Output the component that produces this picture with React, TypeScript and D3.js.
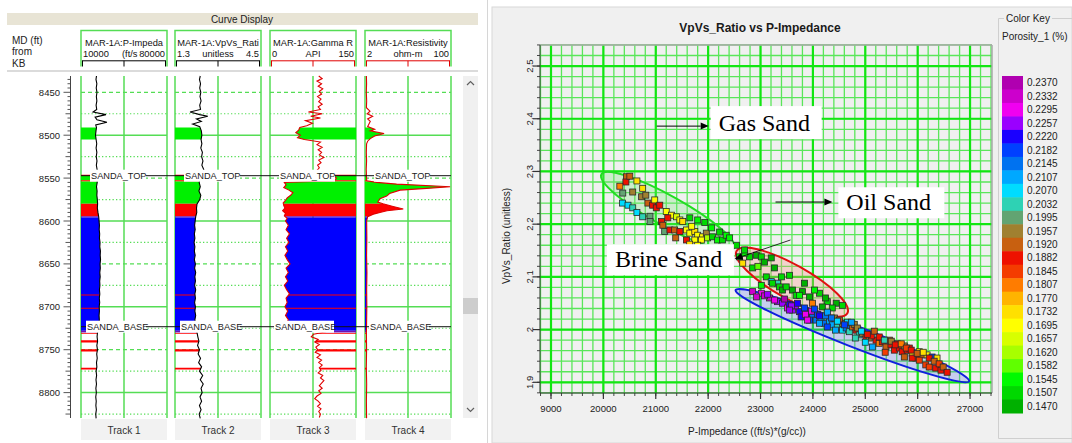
import React from "react";
import * as d3 from "d3";

type Pt = [number, number, number];
type LogSample = [number, number];

// ---------- Crossplot samples: [P-Impedance, VpVs ratio, porosity] ----------
const gasSandPoints: Pt[] = [
  [20440, 2.29, 0.192], [20430, 2.28, 0.1882], [20640, 2.282, 0.1732], [20370, 2.259, 0.1995],
  [20560, 2.261, 0.1957], [20750, 2.268, 0.1732], [20365, 2.24, 0.207], [20470, 2.236, 0.207],
  [20560, 2.231, 0.205], [20640, 2.222, 0.207], [20750, 2.214, 0.2032], [20890, 2.215, 0.1995],
  [20890, 2.205, 0.1995], [20730, 2.252, 0.1957], [20850, 2.24, 0.192], [20940, 2.236, 0.19],
  [20980, 2.246, 0.171], [21010, 2.231, 0.189], [21200, 2.224, 0.17], [21300, 2.217, 0.171],
  [21395, 2.214, 0.166], [21460, 2.208, 0.17], [21515, 2.205, 0.172], [21650, 2.212, 0.1507],
  [21800, 2.208, 0.1545], [21935, 2.203, 0.1507], [21110, 2.205, 0.189], [21135, 2.198, 0.193],
  [21170, 2.186, 0.1995], [21270, 2.189, 0.19], [21360, 2.189, 0.192], [21460, 2.186, 0.188],
  [21585, 2.189, 0.171], [21650, 2.183, 0.17], [21745, 2.186, 0.172], [21800, 2.179, 0.169],
  [21895, 2.176, 0.17], [21965, 2.183, 0.1957], [21585, 2.17, 0.187], [21745, 2.17, 0.17],
  [21870, 2.17, 0.168], [21990, 2.174, 0.163], [22085, 2.176, 0.1507], [22180, 2.17, 0.1545],
  [22275, 2.17, 0.1507], [22345, 2.179, 0.1545], [21800, 2.16, 0.17],
  [20314, 2.272, 0.1807], [20505, 2.291, 0.192], [20810, 2.255, 0.1957], [21076, 2.236, 0.1882],
  [21229, 2.212, 0.19], [21686, 2.196, 0.1695], [22067, 2.193, 0.1545], [22219, 2.185, 0.1507],
  [22410, 2.174, 0.1545], [21381, 2.174, 0.192], [21648, 2.162, 0.1732],
];

const oilSandPoints: Pt[] = [
  [22540, 2.16, 0.1507], [22600, 2.138, 0.1545], [22660, 2.126, 0.172], [22790, 2.138, 0.1507],
  [22920, 2.141, 0.147], [23015, 2.138, 0.1507], [23205, 2.136, 0.147], [22850, 2.117, 0.1507],
  [23265, 2.117, 0.147], [23110, 2.1, 0.1507], [23205, 2.091, 0.207], [23325, 2.088, 0.2032],
  [23360, 2.081, 0.1507], [23420, 2.075, 0.147], [23490, 2.081, 0.1507], [23610, 2.075, 0.147],
  [23680, 2.065, 0.1507], [23800, 2.072, 0.147], [24125, 2.069, 0.1507], [23015, 2.084, 0.1545],
  [23230, 2.088, 0.1507], [23935, 2.062, 0.147], [24275, 2.053, 0.1507], [24445, 2.05, 0.147],
  [24565, 2.046, 0.1507], [23990, 2.05, 0.1807], [24180, 2.043, 0.147], [24370, 2.041, 0.1507],
  [23745, 2.065, 0.1545], [22700, 2.145, 0.1545], [22950, 2.12, 0.1582], [23400, 2.1, 0.1507],
  [22696, 2.151, 0.1507], [23077, 2.128, 0.147], [23553, 2.103, 0.1507], [23839, 2.088, 0.147],
  [24029, 2.075, 0.1545], [24239, 2.06, 0.147],
];

const brineSandPoints: Pt[] = [
  [22850, 2.072, 0.232], [23015, 2.069, 0.2295], [23170, 2.06, 0.232], [23325, 2.053, 0.226],
  [23420, 2.05, 0.226], [23515, 2.041, 0.231], [23610, 2.037, 0.226], [23745, 2.034, 0.221],
  [23775, 2.024, 0.223], [23895, 2.031, 0.218], [23990, 2.024, 0.216], [23935, 2.018, 0.219],
  [24060, 2.018, 0.215], [24155, 2.022, 0.212], [24220, 2.012, 0.216], [24315, 2.015, 0.209],
  [24370, 2.009, 0.21], [24465, 2.005, 0.2035], [24565, 2.012, 0.194], [24565, 1.999, 0.208],
  [24635, 2.003, 0.214], [24695, 1.996, 0.203], [24755, 2.005, 0.193], [24825, 1.999, 0.19],
  [24885, 1.99, 0.203], [24945, 1.993, 0.194], [25015, 1.986, 0.188], [25075, 1.984, 0.196],
  [25135, 1.967, 0.209], [25205, 1.98, 0.187], [25265, 1.974, 0.182], [25325, 1.977, 0.188],
  [25395, 1.967, 0.193], [25490, 1.971, 0.188], [25555, 1.961, 0.187], [25650, 1.965, 0.188],
  [25705, 1.958, 0.189], [25800, 1.961, 0.188], [25895, 1.955, 0.172], [25965, 1.946, 0.188],
  [26030, 1.958, 0.171], [26085, 1.952, 0.192], [26180, 1.952, 0.17], [26275, 1.948, 0.2182],
  [26370, 1.946, 0.172], [26030, 1.942, 0.183], [26155, 1.933, 0.184], [26220, 1.929, 0.185],
  [26345, 1.927, 0.189], [26445, 1.923, 0.189], [25895, 1.946, 0.188], [25745, 1.948, 0.192],
  [23075, 2.064, 0.232], [23265, 2.056, 0.2295], [23555, 2.048, 0.221], [23665, 2.045, 0.225],
  [23840, 2.041, 0.219], [23970, 2.035, 0.228], [24085, 2.029, 0.217], [24240, 2.026, 0.213],
  [24410, 2.022, 0.195], [24505, 2.018, 0.191], [24660, 2.014, 0.207], [24790, 2.01, 0.194],
  [24125, 2.012, 0.209], [24275, 2.005, 0.217], [24430, 1.999, 0.21], [24810, 1.984, 0.203],
  [25000, 1.976, 0.207], [25115, 1.988, 0.188], [25460, 1.98, 0.193], [25610, 1.973, 0.187],
  [25745, 1.969, 0.196], [25840, 1.965, 0.188], [25380, 1.957, 0.183],
  [22924, 2.062, 0.2332], [23134, 2.067, 0.2257], [23458, 2.058, 0.237], [23591, 2.045, 0.2257],
  [23705, 2.05, 0.222], [23858, 2.029, 0.2295], [24029, 2.039, 0.2182], [24124, 2.026, 0.222],
  [24277, 2.033, 0.2107], [24353, 2.022, 0.2145], [24467, 2.016, 0.207], [24601, 2.009, 0.2182],
  [24734, 2.014, 0.2107], [24848, 2.003, 0.1957], [24925, 1.997, 0.207], [25039, 1.991, 0.1882],
  [25172, 1.997, 0.192], [25267, 1.986, 0.19], [25363, 1.98, 0.2032], [25496, 1.978, 0.1957],
  [25572, 1.971, 0.1882], [25686, 1.973, 0.1807], [25782, 1.965, 0.1845], [25877, 1.961, 0.1882],
  [25991, 1.955, 0.192], [26106, 1.957, 0.1732], [26220, 1.946, 0.1882], [26315, 1.94, 0.192],
  [26410, 1.935, 0.1845], [26487, 1.929, 0.192], [26563, 1.919, 0.1882], [23896, 2.018, 0.2295],
  [23553, 2.037, 0.2257],
];

// ---------- Colour key ----------
const porosityKeyValues = [
  0.237, 0.2332, 0.2295, 0.2257, 0.222, 0.2182, 0.2145, 0.2107, 0.207, 0.2032, 0.1995, 0.1957,
  0.192, 0.1882, 0.1845, 0.1807, 0.177, 0.1732, 0.1695, 0.1657, 0.162, 0.1582, 0.1545, 0.1507, 0.147,
];
const porosityKeyColors = [
  "#b000b0", "#cc00cc", "#f000f0", "#9a00ff", "#1a00ff", "#0040ff", "#0072f0", "#00a8ff",
  "#00dcff", "#2ed2b4", "#62a472", "#a08030", "#c86010", "#ee1100", "#f43c00", "#ff7c00",
  "#ffb400", "#ffe000", "#ffff00", "#d8ff00", "#a8ff00", "#60ff00", "#00fa00", "#00d800", "#00b000",
];

// ---------- Crossplot axes ----------
const impedanceTicks = [19000, 20000, 21000, 22000, 23000, 24000, 25000, 26000, 27000];
const impedanceTickLabels = ["9000", "20000", "21000", "22000", "23000", "24000", "25000", "26000", "27000"];
const vpvsTicks = [1.9, 2.0, 2.1, 2.2, 2.3, 2.4, 2.5];
const vpvsTickLabels = ["1.9", "2", "2.1", "2.2", "2.3", "2.4", "2.5"];

// Sand-class envelopes: ends of the long axis [imp1, vpvs1, imp2, vpvs2] and width/length ratio
const envelopeEnds = [
  [19962, 2.2947, 22496, 2.155],
  [22543, 2.149, 24658, 2.031],
  [22524, 2.075, 26982, 1.902],
];
const envelopeRatios = [0.2, 0.27, 0.085];
const envelopeFills = ["rgba(110,225,110,0.28)", "rgba(250,150,130,0.32)", "rgba(90,110,235,0.27)"];
const envelopeStrokes = ["#22dd22", "#e01010", "#1020dd"];

// Callouts: label, box top-left (imp, vpvs), arrow [fromImp, fromVpvs, toImp, toVpvs]
const calloutTexts = ["Gas Sand", "Oil Sand", "Brine Sand"];
const calloutAnchors = [[22048, 2.424], [24486, 2.27], [20067, 2.162]];
const calloutArrows = [
  [21019, 2.386, 22010, 2.386],
  [23286, 2.242, 24372, 2.242],
  [23572, 2.17, 22505, 2.134],
];

// ---------- Well log ----------
const depthLabels = [8450, 8500, 8550, 8600, 8650, 8700, 8750, 8800];
const trackTitles = ["MAR-1A:P-Impeda", "MAR-1A:VpVs_Rati", "MAR-1A:Gamma R", "MAR-1A:Resistivity"];
const trackMinLabels = ["10000", "1.3", "0", "2"];
const trackUnitLabels = ["(ft/s", "unitless", "API", "ohm-m"];
const trackMaxLabels = ["80000", "4.5", "150", "100"];
const trackRanges = [[10000, 80000], [1.3, 4.5], [0, 150], [2, 100]];
const trackNames = ["Track 1", "Track 2", "Track 3", "Track 4"];

const pImpedanceLog: LogSample[] = [
  [8431, 22600], [8435, 22200], [8440, 22900], [8445, 22400], [8450, 23000], [8455, 22500],
  [8460, 22900], [8465, 22300], [8470, 22800], [8473, 19800], [8476, 30300], [8479, 21500],
  [8482, 23000], [8485, 31100], [8488, 22000], [8491, 22600], [8495, 22200], [8500, 21800],
  [8505, 22300], [8510, 22800], [8515, 22300], [8520, 22900], [8525, 22400], [8530, 23000],
  [8535, 22500], [8540, 23100], [8545, 22700], [8550, 23000], [8555, 23200], [8560, 22600],
  [8565, 23100], [8570, 22900], [8575, 23300], [8580, 23500], [8585, 23300], [8590, 23800],
  [8595, 24400], [8600, 24700], [8605, 25000], [8610, 24800], [8615, 25200], [8620, 25000],
  [8625, 25500], [8630, 25300], [8635, 25800], [8640, 25600], [8645, 25900], [8650, 25500],
  [8655, 25700], [8660, 25300], [8665, 25600], [8670, 25200], [8675, 25400], [8680, 25000],
  [8685, 25300], [8690, 24900], [8695, 25200], [8700, 24800], [8705, 25000], [8710, 24700],
  [8715, 24900], [8720, 24600], [8725, 24200], [8730, 23400], [8735, 23100], [8740, 23500],
  [8745, 22900], [8750, 23400], [8755, 22800], [8760, 23200], [8765, 22600], [8770, 22900],
  [8775, 22300], [8780, 22700], [8785, 22200], [8790, 22600], [8795, 22100], [8800, 22500],
  [8805, 22000], [8810, 22400], [8815, 22100], [8820, 22500], [8825, 22000], [8830, 22300],
];

const vpvsLog: LogSample[] = [
  [8431, 2.24], [8435, 2.21], [8440, 2.25], [8445, 2.22], [8450, 2.26], [8455, 2.23], [8460, 2.27],
  [8465, 2.22], [8470, 2.25], [8473, 1.86], [8476, 2.22], [8478, 2.52], [8481, 2.1], [8484, 2.28],
  [8487, 1.96], [8490, 2.22], [8495, 2.28], [8500, 2.3], [8505, 2.27], [8510, 2.3], [8515, 2.26],
  [8520, 2.32], [8525, 2.29], [8530, 2.34], [8535, 2.3], [8540, 2.37], [8545, 2.31], [8550, 2.24],
  [8555, 2.2], [8560, 2.24], [8565, 2.19], [8570, 2.26], [8575, 2.22], [8580, 2.12], [8585, 2.1],
  [8590, 2.11], [8595, 2.07], [8600, 2.05], [8605, 2.03], [8610, 2.05], [8615, 2.02], [8620, 2.04],
  [8625, 2.01], [8630, 2.04], [8635, 2.02], [8640, 2.05], [8645, 2.02], [8650, 2.06], [8655, 2.03],
  [8660, 2.07], [8665, 2.04], [8670, 2.06], [8675, 2.03], [8680, 2.07], [8685, 2.04], [8690, 2.06],
  [8695, 2.03], [8700, 2.06], [8705, 2.04], [8710, 2.07], [8715, 2.04], [8720, 2.06], [8725, 2.05],
  [8730, 2.12], [8735, 2.15], [8740, 2.19], [8745, 2.14], [8750, 2.21], [8755, 2.16], [8760, 2.25],
  [8765, 2.18], [8770, 2.29], [8775, 2.21], [8780, 2.33], [8785, 2.24], [8790, 2.35], [8795, 2.27],
  [8800, 2.31], [8805, 2.23], [8810, 2.29], [8815, 2.21], [8820, 2.27], [8825, 2.2], [8830, 2.24],
];

const gammaRayLog: LogSample[] = [
  [8431, 85], [8434, 91], [8437, 82], [8440, 90], [8443, 84], [8446, 92], [8449, 86], [8452, 90],
  [8455, 83], [8458, 89], [8461, 85], [8464, 91], [8467, 84], [8470, 88], [8473, 67], [8475, 91],
  [8478, 71], [8480, 88], [8483, 62], [8486, 74], [8489, 64], [8491, 52], [8494, 50], [8497, 45],
  [8500, 53], [8503, 48], [8505, 60], [8508, 88], [8511, 82], [8514, 91], [8517, 84], [8520, 90],
  [8523, 86], [8526, 94], [8529, 85], [8532, 89], [8535, 83], [8538, 86], [8541, 82], [8544, 88],
  [8547, 110], [8550, 116], [8553, 112], [8555, 25], [8558, 28], [8561, 24], [8564, 33], [8567, 40],
  [8570, 36], [8573, 30], [8576, 27], [8579, 23], [8582, 24], [8585, 26], [8588, 22], [8591, 27],
  [8594, 25], [8597, 30], [8600, 27], [8605, 32], [8610, 28], [8615, 34], [8620, 29], [8625, 33],
  [8630, 27], [8635, 31], [8640, 26], [8645, 30], [8650, 35], [8655, 28], [8660, 32], [8665, 27],
  [8670, 31], [8675, 25], [8680, 29], [8685, 34], [8690, 28], [8695, 30], [8700, 26], [8705, 31],
  [8710, 27], [8715, 32], [8720, 28], [8725, 30], [8729, 98], [8732, 76], [8735, 72], [8738, 84],
  [8741, 78], [8744, 86], [8747, 80], [8750, 83], [8753, 79], [8756, 88], [8759, 82], [8762, 90],
  [8765, 85], [8768, 91], [8771, 86], [8774, 89], [8777, 84], [8780, 92], [8783, 88], [8786, 94],
  [8789, 90], [8792, 86], [8795, 91], [8798, 85], [8801, 89], [8804, 82], [8807, 78], [8810, 84],
  [8813, 88], [8816, 83], [8819, 89], [8822, 85], [8825, 88], [8829, 86],
];

const resistivityLog: LogSample[] = [
  [8431, 3.6], [8440, 3.8], [8450, 3.5], [8460, 3.9], [8468, 3.6], [8472, 7.7], [8475, 4.5],
  [8478, 10.7], [8481, 5], [8484, 8], [8487, 6.5], [8490, 5], [8493, 13], [8495, 8], [8498, 23.7],
  [8501, 13], [8504, 8], [8507, 5], [8510, 3.8], [8520, 3.5], [8530, 3.8], [8540, 3.4], [8548, 3.7],
  [8553, 4], [8555, 15], [8557, 38], [8560, 99], [8562, 72], [8564, 42], [8568, 30], [8571, 26.7],
  [8574, 19], [8578, 16.5], [8580, 22.5], [8583, 34], [8586, 45.6], [8588, 27], [8590, 19],
  [8592, 11.5], [8595, 5], [8600, 3.9], [8620, 4.1], [8640, 3.8], [8660, 4.2], [8680, 3.9],
  [8700, 4.1], [8720, 3.8], [8730, 3.6], [8750, 3.8], [8770, 3.5], [8790, 3.9], [8810, 3.6], [8830, 3.8],
];

// Facies intervals shading the log tracks
const zoneTops = [8491, 8546, 8547.5, 8552.5, 8554, 8580, 8594.5, 8596, 8685.8, 8701.2, 8728, 8730.5, 8739, 8749.5, 8771];
const zoneBases = [8505, 8547.5, 8552.5, 8554, 8580, 8594.5, 8596, 8728, 8686.8, 8702.2, 8730, 8731.5, 8741.5, 8752, 8773];
const zoneKinds = ["gas", "oil", "gas", "oil", "gas", "oil", "mix", "brine", "oil", "oil", "mix", "oil", "oil", "oil", "oil"];
const faciesColors: Record<string, string> = { gas: "#00f000", oil: "#ff0000", brine: "#0000ff", mix: "#7010b0" };

const formationNames = ["SANDA_TOP", "SANDA_BASE"];
const formationDepths = [8547.2, 8723.2];

const UI = "'Liberation Sans', Arial, sans-serif";

function valueAt(log: LogSample[], d: number): number {
  const i = d3.bisector((p: LogSample) => p[0]).right(log, d);
  if (i <= 0) return log[0][1];
  if (i >= log.length) return log[log.length - 1][1];
  const [d0, v0] = log[i - 1];
  const [d1, v1] = log[i];
  return v0 + ((v1 - v0) * (d - d0)) / (d1 - d0);
}

function zoneProfile(log: LogSample[], top: number, base: number): LogSample[] {
  const pts: LogSample[] = [[top, valueAt(log, top)]];
  log.forEach((p) => {
    if (p[0] > top && p[0] < base) pts.push(p);
  });
  pts.push([base, valueAt(log, base)]);
  return pts;
}

function Arrow({ x1, y1, x2, y2, w }: { x1: number; y1: number; x2: number; y2: number; w: number }) {
  const a = Math.atan2(y2 - y1, x2 - x1);
  const L = 8, hw = 3.5;
  const bx = x2 - L * Math.cos(a), by = y2 - L * Math.sin(a);
  const px = -Math.sin(a) * hw, py = Math.cos(a) * hw;
  return (
    <g>
      <line x1={x1} y1={y1} x2={bx} y2={by} stroke="#000" strokeWidth={w} />
      <polygon points={`${x2},${y2} ${bx + px},${by + py} ${bx - px},${by - py}`} fill="#000" />
    </g>
  );
}

function WellLog() {
  const depth = d3.scaleLinear().domain([8431, 8829.6]).range([76, 418]);
  const trackLefts = [81, 175, 270, 365];
  const trackW = 86;
  const logs = [pImpedanceLog, vpvsLog, gammaRayLog, resistivityLog];
  const curveColors = ["#000", "#000", "#e00000", "#e00000"];
  const fillFromRight = [false, false, true, false];
  const unitX = [122, 218, 313, 408];
  const unitAnchor = ["start", "middle", "middle", "middle"];
  const labelOffsetTop = [10, 10, 10, 10];
  const labelOffsetBase = [6, 6, 5, 5];
  const green = "#55dd55";

  const gridDepths = d3.range(8450, 8826, 25);
  const minorTicks = d3.range(8435, 8830, 5);

  return (
    <g>
      {/* title bar */}
      <rect x={7} y={13} width={471} height={12} fill="#e8e4d5" />
      <text x={242} y={22.5} fontSize={10} textAnchor="middle" fontFamily={UI} fill="#222">Curve Display</text>
      <text x={12} y={44} fontSize={10} fontFamily={UI} fill="#222">MD (ft)</text>
      <text x={12} y={55} fontSize={10} fontFamily={UI} fill="#222">from</text>
      <text x={12} y={66.5} fontSize={10} fontFamily={UI} fill="#222">KB</text>
      <line x1={7} x2={478} y1={71} y2={71} stroke="#cfcfcf" strokeWidth={1.5} />

      {/* depth axis */}
      <line x1={70.5} x2={70.5} y1={76} y2={418} stroke="#444" />
      {minorTicks.map((d) => {
        const len = d % 50 === 0 ? 7 : d % 25 === 0 ? 5 : 3;
        return <line key={d} x1={70.5 - len} x2={70.5} y1={depth(d)} y2={depth(d)} stroke="#444" strokeWidth={0.9} />;
      })}
      {depthLabels.map((d) => (
        <text key={d} x={60} y={depth(d) + 3.5} fontSize={9.5} textAnchor="end" fontFamily={UI} fill="#222">{d}</text>
      ))}

      {trackLefts.map((left, t) => {
        const right = left + trackW;
        const mid = left + trackW / 2;
        const xs = d3.scaleLinear().domain(trackRanges[t]).range([left, right]);
        const edge = fillFromRight[t] ? right : left;
        const area = d3
          .area<LogSample>()
          .y((p) => depth(p[0]))
          .x0(edge)
          .x1((p) => xs(p[1]));
        const line = d3
          .line<LogSample>()
          .x((p) => xs(p[1]))
          .y((p) => depth(p[0]));
        const scaleCol = t < 2 ? "#000" : "#e00000";
        return (
          <g key={t}>
            {/* header box */}
            <path d={`M${left},66.5 V30.5 H${right} V66.5`} fill="none" stroke={green} strokeWidth={1.5} />
            <text x={mid} y={45.5} fontSize={9.3} textAnchor="middle" fontFamily={UI} fill="#111">{trackTitles[t]}</text>
            <text x={left + 2} y={56.5} fontSize={9.3} fontFamily={UI} fill="#111">{trackMinLabels[t]}</text>
            <text x={unitX[t]} y={56.5} fontSize={9.3} textAnchor={unitAnchor[t] as any} fontFamily={UI} fill="#111">{trackUnitLabels[t]}</text>
            <text x={right - 2} y={56.5} fontSize={9.3} textAnchor="end" fontFamily={UI} fill="#111">{trackMaxLabels[t]}</text>
            <line x1={left + 1} x2={right - 1} y1={60.8} y2={60.8} stroke={scaleCol} strokeWidth={1} />
            {[left + 1.5, mid, right - 1.5].map((tx, i) => (
              <line key={i} x1={tx} x2={tx} y1={60.8} y2={66.5} stroke={scaleCol} strokeWidth={1} />
            ))}

            {/* grid */}
            {gridDepths.map((d) => {
              const kind = d % 100 === 0 ? "solid" : d % 50 === 0 ? "dash" : "dot";
              return (
                <line
                  key={d}
                  x1={left}
                  x2={right}
                  y1={depth(d)}
                  y2={depth(d)}
                  stroke={green}
                  strokeWidth={kind === "solid" ? 1.5 : 1.2}
                  strokeDasharray={kind === "dash" ? "4,3" : kind === "dot" ? "1.3,2.2" : undefined}
                />
              );
            })}
            {[left, mid, right].map((vx, i) => (
              <line key={i} x1={vx} x2={vx} y1={76} y2={418} stroke={green} strokeWidth={1.5} />
            ))}

            {/* facies shading */}
            {zoneTops.map((top, z) => (
              <path key={z} d={area(zoneProfile(logs[t], top, zoneBases[z])) || ""} fill={faciesColors[zoneKinds[z]]} />
            ))}

            {/* curve */}
            <path d={line(logs[t]) || ""} fill="none" stroke={curveColors[t]} strokeWidth={1.1} />

            {/* footer */}
            <rect x={left} y={419} width={trackW} height={21} fill="#f2f2f2" />
            <text x={mid} y={433.5} fontSize={10} textAnchor="middle" fontFamily={UI} fill="#333">{trackNames[t]}</text>
          </g>
        );
      })}

      {/* formation tops */}
      {formationNames.map((name, f) => {
        const yy = depth(formationDepths[f]);
        return (
          <g key={name}>
            <line x1={81} x2={451} y1={yy} y2={yy} stroke="#111" strokeWidth={1} />
            {trackLefts.map((left, t) => {
              const lx = left + (f === 0 ? labelOffsetTop[t] : labelOffsetBase[t]);
              const w = f === 0 ? 54 : 58;
              return (
                <g key={t}>
                  <rect x={lx - 1} y={yy - 6} width={w + 2} height={12} fill="#fff" />
                  <text x={lx} y={yy + 3.5} fontSize={9.2} fontFamily={UI} fill="#222">{name}</text>
                </g>
              );
            })}
          </g>
        );
      })}

      {/* scrollbar */}
      <rect x={463} y={76} width={15} height={342} fill="#f0f0f0" />
      <rect x={463} y={298} width={15} height={16} fill="#cdcdcd" />
      <path d="M467,85 L470.5,81.5 L474,85" fill="none" stroke="#606060" strokeWidth={1.2} />
      <path d="M467,408 L470.5,411.5 L474,408" fill="none" stroke="#606060" strokeWidth={1.2} />
    </g>
  );
}

function Crossplot() {
  const x = d3.scaleLinear().domain([18790, 27419]).range([540, 992]);
  const y = d3.scaleLinear().domain([1.8797, 2.5399]).range([393, 45]);

  const keyAsc = [...porosityKeyValues].reverse();
  const colorsAsc = [...porosityKeyColors].reverse();
  const thresholds = keyAsc.slice(1).map((v, i) => (v + keyAsc[i]) / 2);
  const colorOf = d3.scaleThreshold<number, string>().domain(thresholds).range(colorsAsc);

  const xMinor = d3.range(18800, 27401, 200);
  const yMinor = d3.range(1.88, 2.541, 0.02);
  const [x0, x1] = x.range();
  const [y0, y1] = y.range();

  const allPoints = [...gasSandPoints, ...oilSandPoints, ...brineSandPoints];
  const bandH = (413 - 76) / porosityKeyValues.length;

  return (
    <g>
      <line x1={487.5} x2={487.5} y1={0} y2={443} stroke="#d6d6d6" />
      <rect x={492} y={7} width={580} height={436} fill="#f0f0f0" stroke="#d8d8d8" />
      <text x={760} y={32} fontSize={12} fontWeight="bold" textAnchor="middle" fontFamily={UI} fill="#1a1a1a">
        VpVs_Ratio vs P-Impedance
      </text>

      {/* grid */}
      {xMinor.map((v) => (
        <line key={"xm" + v} x1={x(v)} x2={x(v)} y1={y1} y2={y0} stroke="#5ae65a" strokeWidth={1.3} />
      ))}
      {yMinor.map((v) => (
        <line key={"ym" + v} x1={x0} x2={x1} y1={y(v)} y2={y(v)} stroke="#5ae65a" strokeWidth={1.3} />
      ))}
      {impedanceTicks.map((v) => (
        <line key={"xM" + v} x1={x(v)} x2={x(v)} y1={y1} y2={y0} stroke="#12e612" strokeWidth={2.2} />
      ))}
      {vpvsTicks.map((v) => (
        <line key={"yM" + v} x1={x0} x2={x1} y1={y(v)} y2={y(v)} stroke="#12e612" strokeWidth={2.2} />
      ))}

      {/* class envelopes */}
      {envelopeEnds.map((e, i) => {
        const ax = x(e[0]), ay = y(e[1]), bx = x(e[2]), by = y(e[3]);
        const cx = (ax + bx) / 2, cy = (ay + by) / 2;
        const rx = Math.hypot(bx - ax, by - ay) / 2;
        const ang = (Math.atan2(by - ay, bx - ax) * 180) / Math.PI;
        return (
          <ellipse
            key={i}
            cx={cx}
            cy={cy}
            rx={rx}
            ry={rx * envelopeRatios[i]}
            transform={`rotate(${ang} ${cx} ${cy})`}
            fill={envelopeFills[i]}
            stroke={envelopeStrokes[i]}
            strokeWidth={2}
          />
        );
      })}

      {/* samples */}
      {allPoints.map((p, i) => (
        <rect
          key={i}
          x={x(p[0]) - 3}
          y={y(p[1]) - 3}
          width={6}
          height={6}
          fill={colorOf(p[2])}
          stroke="#2a2a2a"
          strokeWidth={0.8}
        />
      ))}

      {/* frame & axes */}
      <line x1={x0} x2={x1} y1={y1} y2={y1} stroke="#a8a8a8" strokeWidth={1.5} />
      <line x1={x1} x2={x1} y1={y1} y2={y0} stroke="#a8a8a8" strokeWidth={1.5} />
      <line x1={x0} x2={x1} y1={y0} y2={y0} stroke="#333" strokeWidth={1} />
      <line x1={x0} x2={x0} y1={y1} y2={y0} stroke="#333" strokeWidth={1} />
      {xMinor.map((v) => (
        <line key={"xt" + v} x1={x(v)} x2={x(v)} y1={y0} y2={y0 + 3} stroke="#333" strokeWidth={0.9} />
      ))}
      {impedanceTicks.map((v, i) => (
        <g key={"xl" + v}>
          <line x1={x(v)} x2={x(v)} y1={y0} y2={y0 + 6} stroke="#333" strokeWidth={1.2} />
          <text x={x(v)} y={412} fontSize={9.6} textAnchor="middle" fontFamily={UI} fill="#222">{impedanceTickLabels[i]}</text>
        </g>
      ))}
      {yMinor.map((v) => (
        <line key={"yt" + v} x1={x0 - 3} x2={x0} y1={y(v)} y2={y(v)} stroke="#333" strokeWidth={0.9} />
      ))}
      {vpvsTicks.map((v, i) => (
        <g key={"yl" + v}>
          <line x1={x0 - 7} x2={x0} y1={y(v)} y2={y(v)} stroke="#333" strokeWidth={1.2} />
          <text
            transform={`translate(533,${y(v)}) rotate(-90)`}
            fontSize={9.6}
            textAnchor="middle"
            fontFamily={UI}
            fill="#222"
          >
            {vpvsTickLabels[i]}
          </text>
        </g>
      ))}
      <text x={747} y={435} fontSize={10} textAnchor="middle" fontFamily={UI} fill="#222">P-Impedance ((ft/s)*(g/cc))</text>
      <text transform="translate(510,236) rotate(-90)" fontSize={10} textAnchor="middle" fontFamily={UI} fill="#222">
        VpVs_Ratio (unitless)
      </text>

      {/* callouts */}
      {calloutTexts.map((label, i) => {
        const bx = x(calloutAnchors[i][0]);
        const by = y(calloutAnchors[i][1]);
        const widths = [111, 106, 127];
        const heights = [33, 31, 31];
        const a = calloutArrows[i];
        return (
          <g key={label}>
            <Arrow x1={x(a[0])} y1={y(a[1])} x2={x(a[2])} y2={y(a[3])} w={i === 2 ? 0.8 : 1} />
            <rect x={bx} y={by} width={widths[i]} height={heights[i]} fill="#fff" />
            <text x={bx + 8} y={by + heights[i] - 8} fontSize={24} fontFamily="'Liberation Serif', 'Times New Roman', serif" fill="#000">
              {label}
            </text>
          </g>
        );
      })}

      {/* colour key */}
      <path d="M1004,18.5 H998.5 V438.5 H1072" fill="none" stroke="#cfcfcf" />
      <line x1={1052} x2={1072} y1={18.5} y2={18.5} stroke="#cfcfcf" />
      <text x={1006} y={22} fontSize={10} fontFamily={UI} fill="#222">Color Key</text>
      <text x={1002} y={40} fontSize={10} fontFamily={UI} fill="#222">Porosity_1 (%)</text>
      {porosityKeyValues.map((v, i) => (
        <g key={v}>
          <rect x={1002} y={76 + i * bandH} width={21} height={bandH + 0.5} fill={porosityKeyColors[i]} />
          <text x={1027} y={76 + i * bandH + bandH / 2 + 3.5} fontSize={10} fontFamily={UI} fill="#222">
            {v.toFixed(4)}
          </text>
        </g>
      ))}
    </g>
  );
}

export default function App() {
  return (
    <svg
      width={1072}
      height={443}
      viewBox="0 0 1072 443"
      style={{ position: "absolute", left: 0, top: 0, background: "#fff" }}
    >
      <WellLog />
      <Crossplot />
    </svg>
  );
}
